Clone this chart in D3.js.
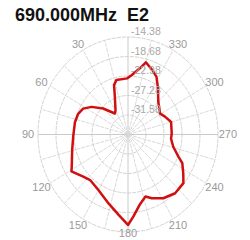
<!DOCTYPE html>
<meta charset="utf-8">
<script src="https://d3js.org/d3.v7.min.js"></script>
<style>
  body { margin: 0; background: #fff; }
  text { font-family: "Liberation Sans", Arial, sans-serif; }
</style>
<div id="my_dataviz"></div>
<script>

// pattern: angle in degrees (counter-clockwise from top) and level in dB
var angles = [1, 13, 17, 20, 29, 34, 46, 55, 62, 69, 78, 91, 104, 118, 121, 131, 138, 150,
              163, 173, 180, 184, 190, 197, 202, 211, 221, 231, 237, 244, 248, 256, 265,
              271, 285, 294, 301, 315, 325, 332, 338, 345, 349, 356]
var levels = [-23.50, -23.56, -24.49, -26.63, -29.73, -30.29, -27.62, -25.26, -23.73, -23.13,
              -22.92, -22.81, -22.14, -20.66, -20.12, -21.71, -22.36, -21.73, -19.99, -17.97,
              -15.93, -17.71, -20.08, -21.58, -20.72, -19.48, -18.72, -18.85, -20.14, -21.45,
              -22.89, -24.74, -25.56, -25.43, -25.22, -26.21, -26.92, -25.65, -23.39, -21.41,
              -20.51, -19.39, -21.00, -22.74]

var ringLabels = ["-14.38", "-18.68", "-22.98", "-27.28", "-31.58"]
var ringValues = [-14.38, -18.68, -22.98, -27.28, -31.58]
var angleLabels = ["30", "60", "90", "120", "150", "180", "210", "240", "270", "300", "330"]
var spokeAngles = d3.range(0, 360, 15)

var width = 250, height = 240
var cx = 128, cy = 134.5
var rx = 90, ry = 97.5

var svg = d3.select("#my_dataviz")
  .append("svg")
    .attr("width", width)
    .attr("height", height)

// level -> fraction of the outer ring
var r = d3.scaleLinear().domain([-35.88, -14.38]).range([0, 1])

function px(a, f) { return cx - rx * f * Math.sin(a * Math.PI / 180) }
function py(a, f) { return cy - ry * f * Math.cos(a * Math.PI / 180) }

// rings
svg.selectAll(".ring")
  .data(ringValues)
  .enter()
  .append("ellipse")
    .attr("cx", cx)
    .attr("cy", cy)
    .attr("rx", function(d) { return rx * r(d) })
    .attr("ry", function(d) { return ry * r(d) })
    .attr("fill", "none")
    .attr("stroke", "#d2d2d2")
    .attr("stroke-width", 1)
    .attr("stroke-dasharray", "4,1")

// spokes
svg.selectAll(".spoke")
  .data(spokeAngles)
  .enter()
  .append("line")
    .attr("x1", cx)
    .attr("y1", cy)
    .attr("x2", function(d) { return px(d, 1) })
    .attr("y2", function(d) { return py(d, 1) })
    .attr("stroke", function(d) { return d % 90 == 0 ? "#cacaca" : "#dadada" })
    .attr("stroke-width", 1)
    .attr("stroke-dasharray", function(d) { return d % 90 == 0 ? null : "4,1" })

// angle labels
svg.selectAll(".alabel")
  .data(angleLabels)
  .enter()
  .append("text")
    .attr("x", function(d) { return px(+d, 1.11) })
    .attr("y", function(d) { return py(+d, +d == 180 ? 1.012 : 1.07) })
    .attr("dy", "0.35em")
    .attr("text-anchor", "middle")
    .style("font-size", "11px")
    .style("fill", "#9a9a9a")
    .text(function(d) { return d })

// pattern line
var line = d3.line()
  .x(function(d, i) { return px(angles[i], r(d)) })
  .y(function(d, i) { return py(angles[i], r(d)) })
  .curve(d3.curveLinearClosed)

svg.append("path")
  .attr("d", line(levels))
  .attr("fill", "none")
  .attr("stroke", "#d01010")
  .attr("stroke-width", 2.5)
  .attr("stroke-linejoin", "round")

// ring labels along the 0 direction
svg.selectAll(".rlabel")
  .data(ringValues)
  .enter()
  .append("text")
    .attr("x", cx + 3)
    .attr("y", function(d) { return cy - ry * r(d) - 2 })
    .style("font-size", "10.5px")
    .style("fill", "#a8a8a8")
    .text(function(d, i) { return ringLabels[i] })

// title
svg.append("text")
  .attr("x", 15)
  .attr("y", 21)
  .style("font-size", "18px")
  .style("font-weight", "bold")
  .style("fill", "#111")
  .style("white-space", "pre")
  .text("690.000MHz  E2")

</script>
